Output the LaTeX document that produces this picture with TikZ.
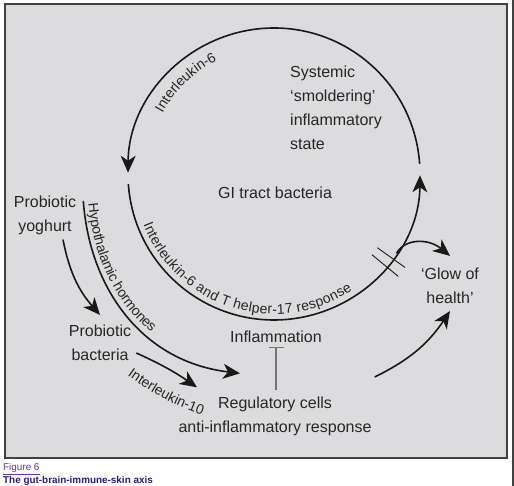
\documentclass[tikz,border=0pt]{standalone}
\usepackage{fontspec}
\setmainfont{Liberation Sans}
\usetikzlibrary{arrows.meta,decorations.text}

\definecolor{panelgray}{RGB}{220,220,222}
\definecolor{edgegray}{RGB}{64,64,64}
\definecolor{figcol}{RGB}{110,50,170}
\definecolor{titlecol}{RGB}{40,30,120}
\newcommand\txtsize{\fontsize{16}{24}\selectfont}
\newcommand\lblsize{\fontsize{14}{16}\selectfont}

\tikzset{
  txt/.style={inner sep=1pt, align=center, text=black!85, font=\txtsize},
  arr/.style={draw=black!90, line width=1.6pt, -{Stealth[length=17pt,width=15pt,inset=5pt]}},
  inh/.style={draw=black!55, line width=1.3pt, -{Bar[width=15pt]}},
  lbl/.style={decorate, decoration={text along path, text color=black!85, #1}},
}

\begin{document}
\begin{tikzpicture}[x=1pt,y=1pt]

\useasboundingbox (0,0) rectangle (514,486);
\fill [white] (0,0) rectangle (514,486);
\draw [fill=panelgray, draw=edgegray, line width=1.5pt] (5,28) rectangle (507,482);
\fill [edgegray] (511.5,0) rectangle (514,486);

\coordinate (ctr) at (274,312);

% texts
\node [txt] (gi) at (275,293) {GI tract bacteria};
\node [txt, align=left, anchor=west] (sys) at (289,378) {Systemic\\‘smoldering’\\inflammatory\\state};
\node [txt] (yog) at (45,271) {Probiotic\\yoghurt};
\node [txt] (pbac) at (100,143) {Probiotic\\bacteria};
\node [txt] (infl) at (276,149) {Inflammation};
\node [txt] (reg) at (275,70) {Regulatory cells\\anti-inflammatory response};
\node [txt] (glow) at (450,200) {‘Glow of\\health’};

% the cycle
\draw [arr] ([shift={(4:146)}]ctr) arc [start angle=4, end angle=179.5, radius=146];
\draw [arr] ([shift={(184:146)}]ctr) arc [start angle=184, end angle=359.5, radius=146];
\path [lbl={text={|\lblsize|Interleukin-6}, text align=center}] ([shift={(155:127)}]ctr) arc [start angle=155, end angle=113, radius=127];
\path [lbl={text={|\lblsize|Interleukin-6 and T helper-17 response}, text align={fit to path}}] ([shift={(201:140)}]ctr) arc [start angle=201, end angle=304, radius=140];

\foreach \a in {-35.5,-39.5}
  \draw [line width=0.9pt, black!90] ([shift={(\a:127)}]ctr) -- ([shift={(\a:161)}]ctr);

% right side
\coordinate (cross) at ([shift={(-33:146)}]ctr);
\draw [arr] (cross) .. controls +(8,15) and +(-22,18) .. ([yshift=11pt]glow.north);
\draw [arr] ([shift={(2pt,39pt)}]reg.east) to [bend right=15] ([yshift=-6pt]glow.south);

% left side
\draw [arr] ([shift={(18pt,-4pt)}]yog.south) to [bend right=15] ([yshift=9pt]pbac.north);
\draw [arr] ([shift={(6pt,14pt)}]yog.east) .. controls +(6,-85) and +(-100,12) .. ([shift={(-35pt,22pt)}]reg.north);
\path [lbl={text={|\lblsize|Hypothalamic hormones}, text align={left indent=3pt}, raise=5pt}] ([shift={(6pt,14pt)}]yog.east) .. controls +(6,-85) and +(-100,12) .. ([shift={(-35pt,22pt)}]reg.north);
\draw [arr] ([shift={(4pt,-10pt)}]pbac.east) to [bend left=5] ([shift={(-78pt,8pt)}]reg.north);
\path [lbl={text={|\lblsize|Interleukin-10}, text align=center}] (124,113) to [bend right=8] (206,69);

\draw [inh, shorten <=5pt, shorten >=2.5pt] (reg.north -| infl.south) -- (infl.south);

% caption
\node [anchor=base west, inner sep=0pt, text=figcol, font=\fontsize{9.9}{12}\selectfont] (fig) at (3,15.5) {\underline{Figure 6}};
\node [anchor=base west, inner sep=0pt, text=titlecol, font=\bfseries\fontsize{9.9}{12}\selectfont] (title) at (3,2) {\underline{The gut-brain-immune-skin axis}};

\end{tikzpicture}
\end{document}
